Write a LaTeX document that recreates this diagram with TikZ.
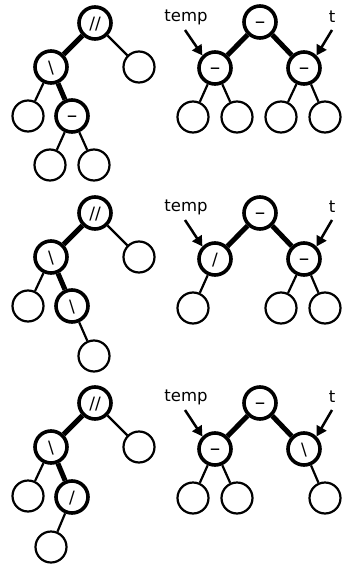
\documentclass[tikz,border=0pt]{standalone}
\usepackage{fontspec}
\setmainfont{DejaVu Sans}
\usetikzlibrary{arrows.meta}
\begin{document}
\begin{tikzpicture}[x=1pt,y=-1pt,
  nd/.style={circle,draw,minimum size=31pt,inner sep=0pt,line width=2.2pt,
    font=\fontsize{17}{17}\selectfont,text height=13.5pt,text depth=1.2pt},
  hn/.style={nd,line width=3.6pt,minimum size=32pt},
  dsh/.style={font=\fontsize{21}{21}\selectfont},
  te/.style={line width=2.2pt},
  he/.style={line width=5pt},
  lbl/.style={font=\fontsize{16.5}{16.5}\selectfont,inner sep=0pt},
  arr/.style={line width=2.5pt,-{Triangle[length=10pt,width=11pt]}}]
\useasboundingbox (0,0) rectangle (343,567);

% ---------- Panel 1 ----------
\begin{scope}
\node[hn] (a1) at (95,23) {//};
\node[hn] (b1) at (51,67) {\textbackslash};
\node[nd] (c1) at (139,67) {};
\node[nd] (d1) at (28,116) {};
\node[hn,dsh] (e1) at (72,116) {–};
\node[nd] (f1) at (50,165) {};
\node[nd] (g1) at (94,165) {};
\draw[he] (a1) -- (b1);
\draw[te] (a1) -- (c1);
\draw[te] (b1) -- (d1);
\draw[he] (b1) -- (e1);
\draw[te] (e1) -- (f1);
\draw[te] (e1) -- (g1);

\node[hn,dsh] (r1) at (260,22) {–};
\node[hn,dsh] (l1) at (215,68) {–};
\node[hn,dsh] (s1) at (304,68) {–};
\node[nd] (u1) at (193,117) {};
\node[nd] (v1) at (237,117) {};
\node[nd] (w1) at (281,117) {};
\node[nd] (z1) at (325,117) {};
\draw[he] (r1) -- (l1);
\draw[he] (r1) -- (s1);
\draw[te] (l1) -- (u1);
\draw[te] (l1) -- (v1);
\draw[te] (s1) -- (w1);
\draw[te] (s1) -- (z1);
\node[lbl] (tmp1) at (186,17) {temp};
\coordinate (ta1) at (185,30);
\draw[arr] (ta1) -- (l1.135);
\node[lbl] (tt1) at (332,17) {t};
\coordinate (tb1) at (332,30);
\draw[arr] (tb1) -- (s1.45);
\end{scope}

% ---------- Panel 2 ----------
\begin{scope}[shift={(0,190)}]
\node[hn] (a2) at (95,23) {//};
\node[hn] (b2) at (51,67) {\textbackslash};
\node[nd] (c2) at (139,67) {};
\node[nd] (d2) at (28,116) {};
\node[hn] (e2) at (72,116) {\textbackslash};
\node[nd] (g2) at (94,166) {};
\draw[he] (a2) -- (b2);
\draw[te] (a2) -- (c2);
\draw[te] (b2) -- (d2);
\draw[he] (b2) -- (e2);
\draw[te] (e2) -- (g2);

\node[hn,dsh] (r2) at (260,23) {–};
\node[hn] (l2) at (215,69) {/};
\node[hn,dsh] (s2) at (304,69) {–};
\node[nd] (u2) at (193,118) {};
\node[nd] (w2) at (281,118) {};
\node[nd] (z2) at (325,118) {};
\draw[he] (r2) -- (l2);
\draw[he] (r2) -- (s2);
\draw[te] (l2) -- (u2);
\draw[te] (s2) -- (w2);
\draw[te] (s2) -- (z2);
\node[lbl] (tmp2) at (186,17) {temp};
\coordinate (ta2) at (185,30);
\draw[arr] (ta2) -- (l2.135);
\node[lbl] (tt2) at (332,17) {t};
\coordinate (tb2) at (332,30);
\draw[arr] (tb2) -- (s2.45);
\end{scope}

% ---------- Panel 3 ----------
\begin{scope}[shift={(0,380)}]
\node[hn] (a3) at (95,23) {//};
\node[hn] (b3) at (51,67) {\textbackslash};
\node[nd] (c3) at (139,67) {};
\node[nd] (d3) at (28,116) {};
\node[hn] (e3) at (72,117) {/};
\node[nd] (f3) at (51,167) {};
\draw[he] (a3) -- (b3);
\draw[te] (a3) -- (c3);
\draw[te] (b3) -- (d3);
\draw[he] (b3) -- (e3);
\draw[te] (e3) -- (f3);

\node[hn,dsh] (r3) at (260,23) {–};
\node[hn,dsh] (l3) at (215,69) {–};
\node[hn] (s3) at (304,69) {\textbackslash};
\node[nd] (u3) at (193,118) {};
\node[nd] (v3) at (237,118) {};
\node[nd] (z3) at (325,118) {};
\draw[he] (r3) -- (l3);
\draw[he] (r3) -- (s3);
\draw[te] (l3) -- (u3);
\draw[te] (l3) -- (v3);
\draw[te] (s3) -- (z3);
\node[lbl] (tmp3) at (186,17) {temp};
\coordinate (ta3) at (185,30);
\draw[arr] (ta3) -- (l3.135);
\node[lbl] (tt3) at (332,17) {t};
\coordinate (tb3) at (332,30);
\draw[arr] (tb3) -- (s3.45);
\end{scope}
\end{tikzpicture}
\end{document}
